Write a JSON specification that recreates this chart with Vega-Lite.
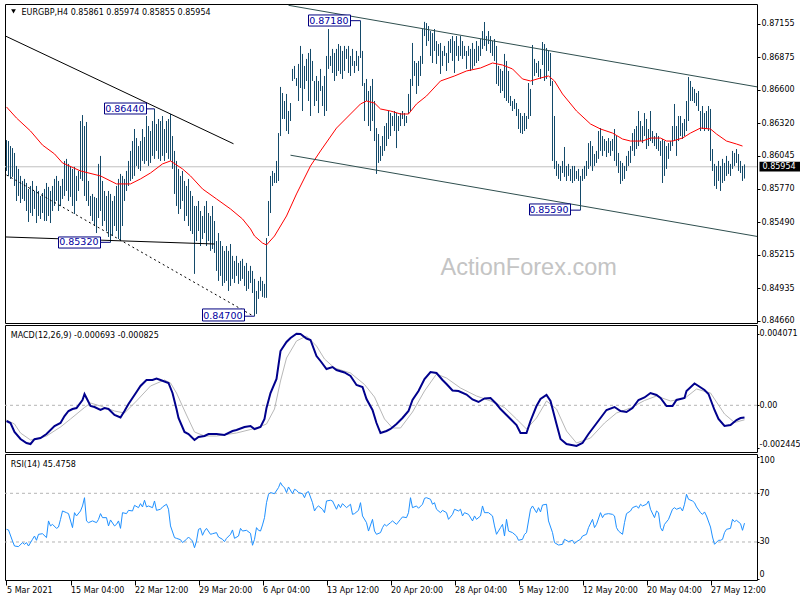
{
"$schema": "https://vega.github.io/schema/vega-lite/v6.json",
"padding": {"left": 2, "top": 3, "right": 0, "bottom": 0},
"background": "white",
"spacing": 2,
"bounds": "flush",
"config": {
  "view": {"stroke": "black", "strokeWidth": 1},
  "axis": {"labelFont": "DejaVu Sans", "labelFontSize": 8, "labelColor": "black", "tickColor": "black", "domain": false, "grid": false, "title": null, "tickSize": 3, "labelPadding": 1, "labelOverlap": false, "labelBound": false}
},
"datasets": {
"bars": [
{"i":0,"h":0.86178,"l":0.85919},{"i":1,"h":0.86170,"l":0.85877},{"i":2,"h":0.86128,"l":0.85852},{"i":3,"h":0.86111,"l":0.85869},{"i":4,"h":0.86070,"l":0.85793},
{"i":5,"h":0.85961,"l":0.85667},{"i":6,"h":0.85936,"l":0.85709},{"i":7,"h":0.85877,"l":0.85650},{"i":8,"h":0.85835,"l":0.85684},{"i":9,"h":0.85852,"l":0.85667},
{"i":10,"h":0.85818,"l":0.85583},{"i":11,"h":0.85768,"l":0.85491},{"i":12,"h":0.85793,"l":0.85566},{"i":13,"h":0.85835,"l":0.85541},{"i":14,"h":0.85751,"l":0.85600},
{"i":15,"h":0.85793,"l":0.85482},{"i":16,"h":0.85751,"l":0.85541},{"i":17,"h":0.85709,"l":0.85516},{"i":18,"h":0.85734,"l":0.85566},{"i":19,"h":0.85768,"l":0.85499},
{"i":20,"h":0.85818,"l":0.85499},{"i":21,"h":0.85785,"l":0.85541},{"i":22,"h":0.85751,"l":0.85482},{"i":23,"h":0.85793,"l":0.85583},{"i":24,"h":0.85852,"l":0.85625},
{"i":25,"h":0.85877,"l":0.85667},{"i":26,"h":0.85835,"l":0.85583},{"i":27,"h":0.85793,"l":0.85625},{"i":28,"h":0.85852,"l":0.85684},{"i":29,"h":0.86003,"l":0.85709},
{"i":30,"h":0.86020,"l":0.85751},{"i":31,"h":0.85978,"l":0.85667},{"i":32,"h":0.85961,"l":0.85701},{"i":33,"h":0.85936,"l":0.85625},{"i":34,"h":0.85953,"l":0.85558},
{"i":35,"h":0.85877,"l":0.85667},{"i":36,"h":0.85919,"l":0.85751},{"i":37,"h":0.86338,"l":0.85852},{"i":38,"h":0.86388,"l":0.85835},{"i":39,"h":0.86296,"l":0.85709},
{"i":40,"h":0.86330,"l":0.85667},{"i":41,"h":0.85835,"l":0.85625},{"i":42,"h":0.85709,"l":0.85541},{"i":43,"h":0.85726,"l":0.85499},{"i":44,"h":0.85701,"l":0.85457},
{"i":45,"h":0.85692,"l":0.85398},{"i":46,"h":0.85978,"l":0.85524},{"i":47,"h":0.86045,"l":0.85583},{"i":48,"h":0.85835,"l":0.85457},{"i":49,"h":0.85751,"l":0.85499},
{"i":50,"h":0.85709,"l":0.85415},{"i":51,"h":0.85751,"l":0.85365},{"i":52,"h":0.85726,"l":0.85320},{"i":53,"h":0.85667,"l":0.85373},{"i":54,"h":0.85709,"l":0.85457},
{"i":55,"h":0.85793,"l":0.85415},{"i":56,"h":0.85852,"l":0.85348},{"i":57,"h":0.85894,"l":0.85331},{"i":58,"h":0.85877,"l":0.85457},{"i":59,"h":0.85852,"l":0.85667},
{"i":60,"h":0.85919,"l":0.85751},{"i":61,"h":0.86003,"l":0.85793},{"i":62,"h":0.86087,"l":0.85835},{"i":63,"h":0.86170,"l":0.85852},{"i":64,"h":0.86271,"l":0.85877},
{"i":65,"h":0.86195,"l":0.85961},{"i":66,"h":0.86128,"l":0.85936},{"i":67,"h":0.86170,"l":0.85919},{"i":68,"h":0.86271,"l":0.86003},{"i":69,"h":0.86204,"l":0.85978},
{"i":70,"h":0.86380,"l":0.86003},{"i":71,"h":0.86296,"l":0.85961},{"i":72,"h":0.86254,"l":0.85986},{"i":73,"h":0.86338,"l":0.86045},{"i":74,"h":0.86440,"l":0.86020},
{"i":75,"h":0.86313,"l":0.86087},{"i":76,"h":0.86355,"l":0.86020},{"i":77,"h":0.86338,"l":0.86003},{"i":78,"h":0.86380,"l":0.86045},{"i":79,"h":0.86271,"l":0.86003},
{"i":80,"h":0.86338,"l":0.86070},{"i":81,"h":0.86355,"l":0.86020},{"i":82,"h":0.86397,"l":0.86003},{"i":83,"h":0.86212,"l":0.85936},{"i":84,"h":0.86087,"l":0.85726},
{"i":85,"h":0.86003,"l":0.85625},{"i":86,"h":0.85936,"l":0.85558},{"i":87,"h":0.85877,"l":0.85600},{"i":88,"h":0.85919,"l":0.85667},{"i":89,"h":0.85835,"l":0.85499},
{"i":90,"h":0.85793,"l":0.85541},{"i":91,"h":0.85852,"l":0.85457},{"i":92,"h":0.85751,"l":0.85415},{"i":93,"h":0.85709,"l":0.85390},{"i":94,"h":0.85625,"l":0.85055},
{"i":95,"h":0.85625,"l":0.85331},{"i":96,"h":0.85667,"l":0.85415},{"i":97,"h":0.85583,"l":0.85289},{"i":98,"h":0.85541,"l":0.85348},{"i":99,"h":0.85625,"l":0.85398},
{"i":100,"h":0.85667,"l":0.85289},{"i":101,"h":0.85566,"l":0.85331},{"i":102,"h":0.85541,"l":0.85248},{"i":103,"h":0.85625,"l":0.85264},{"i":104,"h":0.85499,"l":0.85231},
{"i":105,"h":0.85331,"l":0.85080},{"i":106,"h":0.85398,"l":0.84996},{"i":107,"h":0.85331,"l":0.85038},{"i":108,"h":0.85289,"l":0.84954},{"i":109,"h":0.85248,"l":0.84979},
{"i":110,"h":0.85289,"l":0.84996},{"i":111,"h":0.85248,"l":0.84912},{"i":112,"h":0.85306,"l":0.84954},{"i":113,"h":0.85206,"l":0.85013},{"i":114,"h":0.85164,"l":0.84979},
{"i":115,"h":0.85206,"l":0.85038},{"i":116,"h":0.85147,"l":0.84971},{"i":117,"h":0.85164,"l":0.84996},{"i":118,"h":0.85181,"l":0.85013},{"i":119,"h":0.85122,"l":0.84954},
{"i":120,"h":0.85147,"l":0.84912},{"i":121,"h":0.85080,"l":0.84929},{"i":122,"h":0.85122,"l":0.84979},{"i":123,"h":0.85080,"l":0.84895},{"i":124,"h":0.85013,"l":0.84700},
{"i":125,"h":0.84912,"l":0.84719},{"i":126,"h":0.84996,"l":0.84845},{"i":127,"h":0.85030,"l":0.84912},{"i":128,"h":0.84996,"l":0.84862},{"i":129,"h":0.84971,"l":0.84854},
{"i":130,"h":0.85356,"l":0.84854},{"i":131,"h":0.85667,"l":0.85373},{"i":132,"h":0.85877,"l":0.85566},{"i":133,"h":0.85919,"l":0.85793},{"i":134,"h":0.85902,"l":0.85818},
{"i":135,"h":0.86003,"l":0.85818},{"i":136,"h":0.86237,"l":0.85835},{"i":137,"h":0.86624,"l":0.86212},{"i":138,"h":0.86573,"l":0.86355},{"i":139,"h":0.86506,"l":0.86355},
{"i":140,"h":0.86565,"l":0.86254},{"i":141,"h":0.86422,"l":0.86229},{"i":142,"h":0.86489,"l":0.86338},{"i":143,"h":0.86775,"l":0.86674},{"i":144,"h":0.86800,"l":0.86691},
{"i":145,"h":0.86699,"l":0.86632},{"i":146,"h":0.86817,"l":0.86506},{"i":147,"h":0.86968,"l":0.86615},{"i":148,"h":0.86901,"l":0.86422},{"i":149,"h":0.86800,"l":0.86607},
{"i":150,"h":0.86859,"l":0.86674},{"i":151,"h":0.86909,"l":0.86506},{"i":152,"h":0.86943,"l":0.86380},{"i":153,"h":0.86842,"l":0.86674},{"i":154,"h":0.86674,"l":0.86464},
{"i":155,"h":0.86716,"l":0.86506},{"i":156,"h":0.86674,"l":0.86405},{"i":157,"h":0.86775,"l":0.86590},{"i":158,"h":0.86632,"l":0.86464},{"i":159,"h":0.86716,"l":0.86380},
{"i":160,"h":0.86884,"l":0.86422},{"i":161,"h":0.87110,"l":0.86775},{"i":162,"h":0.86884,"l":0.86800},{"i":163,"h":0.86943,"l":0.86741},{"i":164,"h":0.86909,"l":0.86674},
{"i":165,"h":0.86943,"l":0.86716},{"i":166,"h":0.86984,"l":0.86758},{"i":167,"h":0.86968,"l":0.86733},{"i":168,"h":0.86926,"l":0.86691},{"i":169,"h":0.86968,"l":0.86758},
{"i":170,"h":0.86943,"l":0.86859},{"i":171,"h":0.86968,"l":0.86741},{"i":172,"h":0.86884,"l":0.86716},{"i":173,"h":0.86943,"l":0.86800},{"i":174,"h":0.86842,"l":0.86741},
{"i":175,"h":0.86926,"l":0.86800},{"i":176,"h":0.86884,"l":0.86758},{"i":177,"h":0.87180,"l":0.86867},{"i":178,"h":0.86926,"l":0.86632},{"i":179,"h":0.86657,"l":0.86338},
{"i":180,"h":0.86691,"l":0.86506},{"i":181,"h":0.86590,"l":0.86296},{"i":182,"h":0.86632,"l":0.86254},{"i":183,"h":0.86691,"l":0.86338},{"i":184,"h":0.86506,"l":0.86170},
{"i":185,"h":0.86279,"l":0.85894},{"i":186,"h":0.86229,"l":0.85986},{"i":187,"h":0.86128,"l":0.86003},{"i":188,"h":0.86212,"l":0.86045},{"i":189,"h":0.86296,"l":0.86087},
{"i":190,"h":0.86321,"l":0.86128},{"i":191,"h":0.86422,"l":0.86187},{"i":192,"h":0.86405,"l":0.86212},{"i":193,"h":0.86380,"l":0.86296},{"i":194,"h":0.86422,"l":0.86254},
{"i":195,"h":0.86405,"l":0.86111},{"i":196,"h":0.86380,"l":0.86254},{"i":197,"h":0.86405,"l":0.86296},{"i":198,"h":0.86422,"l":0.86355},{"i":199,"h":0.86405,"l":0.86296},
{"i":200,"h":0.86380,"l":0.86321},{"i":201,"h":0.86565,"l":0.86397},{"i":202,"h":0.86691,"l":0.86422},{"i":203,"h":0.86993,"l":0.86632},{"i":204,"h":0.86842,"l":0.86716},
{"i":205,"h":0.86825,"l":0.86565},{"i":206,"h":0.86842,"l":0.86632},{"i":207,"h":0.86884,"l":0.86716},{"i":208,"h":0.87110,"l":0.86817},{"i":209,"h":0.87170,"l":0.87051},
{"i":210,"h":0.87160,"l":0.86968},{"i":211,"h":0.87135,"l":0.87009},{"i":212,"h":0.87093,"l":0.86884},{"i":213,"h":0.87076,"l":0.86825},{"i":214,"h":0.87110,"l":0.86926},
{"i":215,"h":0.87009,"l":0.86817},{"i":216,"h":0.86984,"l":0.86884},{"i":217,"h":0.86993,"l":0.86733},{"i":218,"h":0.86926,"l":0.86800},{"i":219,"h":0.86968,"l":0.86884},
{"i":220,"h":0.86909,"l":0.86758},{"i":221,"h":0.87009,"l":0.86825},{"i":222,"h":0.87026,"l":0.86909},{"i":223,"h":0.87051,"l":0.86842},{"i":224,"h":0.87009,"l":0.86741},
{"i":225,"h":0.87051,"l":0.86884},{"i":226,"h":0.86968,"l":0.86842},{"i":227,"h":0.87051,"l":0.86884},{"i":228,"h":0.87009,"l":0.86859},{"i":229,"h":0.86968,"l":0.86884},
{"i":230,"h":0.86926,"l":0.86775},{"i":231,"h":0.86968,"l":0.86884},{"i":232,"h":0.86943,"l":0.86758},{"i":233,"h":0.86993,"l":0.86775},{"i":234,"h":0.86943,"l":0.86800},
{"i":235,"h":0.87009,"l":0.86825},{"i":236,"h":0.86968,"l":0.86842},{"i":237,"h":0.87026,"l":0.86884},{"i":238,"h":0.87093,"l":0.86943},{"i":239,"h":0.87169,"l":0.86968},
{"i":240,"h":0.87051,"l":0.86926},{"i":241,"h":0.87093,"l":0.86984},{"i":242,"h":0.87051,"l":0.86909},{"i":243,"h":0.87009,"l":0.86884},{"i":244,"h":0.87026,"l":0.86842},
{"i":245,"h":0.86968,"l":0.86649},{"i":246,"h":0.86800,"l":0.86632},{"i":247,"h":0.86775,"l":0.86573},{"i":248,"h":0.86758,"l":0.86590},{"i":249,"h":0.86901,"l":0.86531},
{"i":250,"h":0.86842,"l":0.86506},{"i":251,"h":0.86758,"l":0.86489},{"i":252,"h":0.86548,"l":0.86464},{"i":253,"h":0.86506,"l":0.86422},{"i":254,"h":0.86523,"l":0.86439},
{"i":255,"h":0.86489,"l":0.86380},{"i":256,"h":0.86439,"l":0.86271},{"i":257,"h":0.86405,"l":0.86237},{"i":258,"h":0.86380,"l":0.86229},{"i":259,"h":0.86405,"l":0.86254},
{"i":260,"h":0.86380,"l":0.86271},{"i":261,"h":0.86657,"l":0.86355},{"i":262,"h":0.86607,"l":0.86380},{"i":263,"h":0.86976,"l":0.86640},{"i":264,"h":0.86859,"l":0.86716},
{"i":265,"h":0.86825,"l":0.86741},{"i":266,"h":0.86842,"l":0.86707},{"i":267,"h":0.86775,"l":0.86691},{"i":268,"h":0.87001,"l":0.86808},{"i":269,"h":0.86984,"l":0.86674},
{"i":270,"h":0.86951,"l":0.86691},{"i":271,"h":0.86926,"l":0.86758},{"i":272,"h":0.86909,"l":0.86632},{"i":273,"h":0.86674,"l":0.86003},{"i":274,"h":0.86380,"l":0.85936},
{"i":275,"h":0.86003,"l":0.85877},{"i":276,"h":0.85978,"l":0.85852},{"i":277,"h":0.85961,"l":0.85835},{"i":278,"h":0.86003,"l":0.85902},{"i":279,"h":0.86120,"l":0.85869},
{"i":280,"h":0.85961,"l":0.85835},{"i":281,"h":0.85978,"l":0.85877},{"i":282,"h":0.85936,"l":0.85835},{"i":283,"h":0.85961,"l":0.85818},{"i":284,"h":0.85961,"l":0.85835},
{"i":285,"h":0.85919,"l":0.85852},{"i":286,"h":0.85936,"l":0.85835},{"i":287,"h":0.85877,"l":0.85590},{"i":288,"h":0.85936,"l":0.85835},{"i":289,"h":0.85961,"l":0.85852},
{"i":290,"h":0.86003,"l":0.85877},{"i":291,"h":0.86153,"l":0.85936},{"i":292,"h":0.86170,"l":0.85961},{"i":293,"h":0.86128,"l":0.85919},{"i":294,"h":0.86061,"l":0.85961},
{"i":295,"h":0.86087,"l":0.85986},{"i":296,"h":0.86254,"l":0.86020},{"i":297,"h":0.86279,"l":0.86087},{"i":298,"h":0.86212,"l":0.86045},{"i":299,"h":0.86187,"l":0.86087},
{"i":300,"h":0.86170,"l":0.86036},{"i":301,"h":0.86195,"l":0.86070},{"i":302,"h":0.86170,"l":0.86045},{"i":303,"h":0.86187,"l":0.86087},{"i":304,"h":0.86271,"l":0.86003},
{"i":305,"h":0.86212,"l":0.85961},{"i":306,"h":0.86070,"l":0.85902},{"i":307,"h":0.86003,"l":0.85810},{"i":308,"h":0.85986,"l":0.85835},{"i":309,"h":0.85961,"l":0.85852},
{"i":310,"h":0.86045,"l":0.85919},{"i":311,"h":0.86087,"l":0.85961},{"i":312,"h":0.86128,"l":0.85986},{"i":313,"h":0.86237,"l":0.86087},{"i":314,"h":0.86271,"l":0.86045},
{"i":315,"h":0.86296,"l":0.86103},{"i":316,"h":0.86422,"l":0.86128},{"i":317,"h":0.86338,"l":0.86170},{"i":318,"h":0.86296,"l":0.86153},{"i":319,"h":0.86405,"l":0.86212},
{"i":320,"h":0.86355,"l":0.86103},{"i":321,"h":0.86271,"l":0.86128},{"i":322,"h":0.86422,"l":0.86170},{"i":323,"h":0.86254,"l":0.86153},{"i":324,"h":0.86212,"l":0.86128},
{"i":325,"h":0.86237,"l":0.86103},{"i":326,"h":0.86212,"l":0.86087},{"i":327,"h":0.86170,"l":0.86045},{"i":328,"h":0.86187,"l":0.85818},{"i":329,"h":0.86170,"l":0.85877},
{"i":330,"h":0.86128,"l":0.85936},{"i":331,"h":0.86153,"l":0.86020},{"i":332,"h":0.86170,"l":0.86087},{"i":333,"h":0.86296,"l":0.86128},{"i":334,"h":0.86481,"l":0.86170},
{"i":335,"h":0.86296,"l":0.86045},{"i":336,"h":0.86380,"l":0.86170},{"i":337,"h":0.86380,"l":0.86212},{"i":338,"h":0.86321,"l":0.86187},{"i":339,"h":0.86355,"l":0.86212},
{"i":340,"h":0.86506,"l":0.86254},{"i":341,"h":0.86707,"l":0.86338},{"i":342,"h":0.86674,"l":0.86506},{"i":343,"h":0.86624,"l":0.86506},{"i":344,"h":0.86607,"l":0.86489},
{"i":345,"h":0.86573,"l":0.86464},{"i":346,"h":0.86590,"l":0.86422},{"i":347,"h":0.86422,"l":0.86254},{"i":348,"h":0.86464,"l":0.86271},{"i":349,"h":0.86405,"l":0.86254},
{"i":350,"h":0.86422,"l":0.86271},{"i":351,"h":0.86464,"l":0.86254},{"i":352,"h":0.86439,"l":0.86003},{"i":353,"h":0.86103,"l":0.85919},{"i":354,"h":0.85978,"l":0.85793},
{"i":355,"h":0.85961,"l":0.85768},{"i":356,"h":0.86003,"l":0.85835},{"i":357,"h":0.85961,"l":0.85751},{"i":358,"h":0.86020,"l":0.85818},{"i":359,"h":0.85986,"l":0.85835},
{"i":360,"h":0.86045,"l":0.85877},{"i":361,"h":0.86003,"l":0.85894},{"i":362,"h":0.85978,"l":0.85877},{"i":363,"h":0.86087,"l":0.85936},{"i":364,"h":0.86070,"l":0.85961},
{"i":365,"h":0.86103,"l":0.85986},{"i":366,"h":0.86061,"l":0.85919},{"i":367,"h":0.86003,"l":0.85902},{"i":368,"h":0.85961,"l":0.85835},{"i":369,"h":0.85974,"l":0.85855}
],
"ma": [
{"i":0,"v":0.86456},{"i":5,"v":0.86363},{"i":12,"v":0.86254},{"i":18,"v":0.86136},{"i":24,"v":0.86062},{"i":28,"v":0.85986},{"i":37,"v":0.85919},{"i":47,"v":0.85877},{"i":55,"v":0.85810},{"i":62,"v":0.85810},{"i":67,"v":0.85852},{"i":72,"v":0.85902},{"i":78,"v":0.85978},{"i":82,"v":0.86003},{"i":88,"v":0.85936},{"i":92,"v":0.85877},{"i":98,"v":0.85768},{"i":105,"v":0.85684},{"i":112,"v":0.85600},{"i":118,"v":0.85516},{"i":122,"v":0.85432},{"i":124,"v":0.85373},{"i":128,"v":0.85314},{"i":130,"v":0.85298},{"i":134,"v":0.85373},{"i":140,"v":0.85541},{"i":145,"v":0.85726},{"i":152,"v":0.85961},{"i":157,"v":0.86087},{"i":165,"v":0.86279},{"i":172,"v":0.86397},{"i":177,"v":0.86481},{"i":180,"v":0.86506},{"i":184,"v":0.86489},{"i":187,"v":0.86439},{"i":192,"v":0.86422},{"i":197,"v":0.86397},{"i":201,"v":0.86397},{"i":205,"v":0.86481},{"i":210,"v":0.86548},{"i":217,"v":0.86674},{"i":224,"v":0.86716},{"i":230,"v":0.86758},{"i":237,"v":0.86783},{"i":243,"v":0.86825},{"i":248,"v":0.86808},{"i":253,"v":0.86775},{"i":258,"v":0.86691},{"i":262,"v":0.86674},{"i":267,"v":0.86699},{"i":271,"v":0.86716},{"i":274,"v":0.86674},{"i":278,"v":0.86565},{"i":285,"v":0.86422},{"i":292,"v":0.86313},{"i":297,"v":0.86271},{"i":303,"v":0.86237},{"i":308,"v":0.86187},{"i":312,"v":0.86170},{"i":318,"v":0.86170},{"i":322,"v":0.86195},{"i":327,"v":0.86195},{"i":330,"v":0.86170},{"i":333,"v":0.86170},{"i":338,"v":0.86195},{"i":342,"v":0.86237},{"i":347,"v":0.86279},{"i":352,"v":0.86271},{"i":355,"v":0.86229},{"i":360,"v":0.86170},{"i":365,"v":0.86145},{"i":368,"v":0.86128}
],
"macd": [
{"i":0,"m":-0.000893},{"i":2,"m":-0.001007},{"i":4,"m":-0.001519},{"i":7,"m":-0.001918},{"i":10,"m":-0.002145},{"i":12,"m":-0.002202},{"i":14,"m":-0.00193},{"i":17,"m":-0.001861},{"i":20,"m":-0.001633},{"i":24,"m":-0.001178},{"i":27,"m":-0.001007},{"i":29,"m":-0.00061},{"i":31,"m":-0.000324},{"i":33,"m":-0.000211},{"i":35,"m":-0.000154},{"i":38,"m":0.000302},{"i":39,"m":0.000643},{"i":40,"m":0.000415},{"i":42,"m":-0.00004},{"i":44,"m":-0.0001},{"i":47,"m":-0.000267},{"i":49,"m":-0.000154},{"i":51,"m":-0.000211},{"i":54,"m":-0.000552},{"i":57,"m":-0.000694},{"i":59,"m":-0.000324},{"i":61,"m":0.000074},{"i":65,"m":0.000757},{"i":67,"m":0.001098},{"i":70,"m":0.00144},{"i":73,"m":0.00144},{"i":75,"m":0.001525},{"i":77,"m":0.00144},{"i":81,"m":0.001269},{"i":83,"m":0.0007},{"i":85,"m":-0.000211},{"i":86,"m":-0.000723},{"i":89,"m":-0.001519},{"i":91,"m":-0.001633},{"i":94,"m":-0.001974},{"i":96,"m":-0.001804},{"i":99,"m":-0.001747},{"i":101,"m":-0.001633},{"i":105,"m":-0.001633},{"i":109,"m":-0.00169},{"i":113,"m":-0.001462},{"i":115,"m":-0.001405},{"i":119,"m":-0.001235},{"i":122,"m":-0.001178},{"i":124,"m":-0.001349},{"i":127,"m":-0.001235},{"i":129,"m":-0.00078},{"i":130,"m":-0.000154},{"i":132,"m":0.0007},{"i":135,"m":0.001496},{"i":137,"m":0.00309},{"i":140,"m":0.003602},{"i":142,"m":0.003829},{"i":145,"m":0.004071},{"i":147,"m":0.004057},{"i":150,"m":0.003801},{"i":152,"m":0.003716},{"i":155,"m":0.002805},{"i":157,"m":0.002521},{"i":160,"m":0.002065},{"i":163,"m":0.002179},{"i":165,"m":0.002009},{"i":169,"m":0.001866},{"i":172,"m":0.001667},{"i":175,"m":0.001155},{"i":178,"m":0.001041},{"i":180,"m":0.000358},{"i":183,"m":-0.000267},{"i":185,"m":-0.001007},{"i":187,"m":-0.001576},{"i":190,"m":-0.001462},{"i":192,"m":-0.001349},{"i":195,"m":-0.001064},{"i":198,"m":-0.000723},{"i":201,"m":-0.000324},{"i":203,"m":0.000302},{"i":206,"m":0.000814},{"i":209,"m":0.001496},{"i":212,"m":0.001895},{"i":215,"m":0.001838},{"i":218,"m":0.00144},{"i":220,"m":0.001212},{"i":223,"m":0.000842},{"i":226,"m":0.000814},{"i":230,"m":0.000615},{"i":233,"m":0.00033},{"i":236,"m":0.000188},{"i":239,"m":0.000387},{"i":242,"m":0.000415},{"i":245,"m":0.000074},{"i":247,"m":-0.000211},{"i":250,"m":-0.000552},{"i":252,"m":-0.00078},{"i":255,"m":-0.001121},{"i":257,"m":-0.001576},{"i":260,"m":-0.001576},{"i":262,"m":-0.000893},{"i":265,"m":-0.00004},{"i":267,"m":0.000358},{"i":270,"m":0.000586},{"i":272,"m":0.000245},{"i":275,"m":-0.001064},{"i":277,"m":-0.001918},{"i":280,"m":-0.002202},{"i":285,"m":-0.00231},{"i":288,"m":-0.002145},{"i":291,"m":-0.001633},{"i":294,"m":-0.001178},{"i":297,"m":-0.000723},{"i":300,"m":-0.000267},{"i":304,"m":-0.000097},{"i":307,"m":-0.000324},{"i":310,"m":-0.000381},{"i":313,"m":-0.000154},{"i":316,"m":0.000302},{"i":319,"m":0.000444},{"i":322,"m":0.0007},{"i":325,"m":0.000586},{"i":327,"m":0.000415},{"i":330,"m":-0.00004},{"i":333,"m":-0.00004},{"i":335,"m":0.000302},{"i":339,"m":0.000415},{"i":340,"m":0.000814},{"i":344,"m":0.00124},{"i":346,"m":0.001098},{"i":349,"m":0.000871},{"i":351,"m":0.000643},{"i":354,"m":-0.000267},{"i":356,"m":-0.00078},{"i":359,"m":-0.001178},{"i":362,"m":-0.001121},{"i":365,"m":-0.000836},{"i":367,"m":-0.000723},{"i":369,"m":-0.000693}
],
"sig": [
{"i":0,"s":-0.000836},{"i":4,"s":-0.001064},{"i":7,"s":-0.001576},{"i":12,"s":-0.001974},{"i":15,"s":-0.001918},{"i":20,"s":-0.001747},{"i":27,"s":-0.001235},{"i":32,"s":-0.00078},{"i":39,"s":-0.000125},{"i":42,"s":0.000131},{"i":47,"s":-0.00004},{"i":54,"s":-0.000324},{"i":59,"s":-0.000438},{"i":65,"s":0.000245},{"i":72,"s":0.001098},{"i":79,"s":0.00144},{"i":82,"s":0.001269},{"i":85,"s":0.0007},{"i":90,"s":-0.000552},{"i":94,"s":-0.001519},{"i":99,"s":-0.001747},{"i":105,"s":-0.001747},{"i":115,"s":-0.001576},{"i":125,"s":-0.001292},{"i":130,"s":-0.001064},{"i":134,"s":-0.000211},{"i":137,"s":0.001383},{"i":140,"s":0.002691},{"i":145,"s":0.003659},{"i":150,"s":0.003943},{"i":155,"s":0.003374},{"i":159,"s":0.002634},{"i":164,"s":0.002122},{"i":172,"s":0.001838},{"i":179,"s":0.001184},{"i":184,"s":0.000472},{"i":189,"s":-0.00078},{"i":193,"s":-0.001292},{"i":197,"s":-0.001292},{"i":203,"s":-0.000381},{"i":209,"s":0.000814},{"i":215,"s":0.001781},{"i":220,"s":0.001553},{"i":227,"s":0.000984},{"i":235,"s":0.000529},{"i":242,"s":0.000245},{"i":249,"s":-0.000125},{"i":255,"s":-0.00078},{"i":260,"s":-0.001349},{"i":265,"s":-0.000723},{"i":270,"s":0.000245},{"i":275,"s":-0.000211},{"i":280,"s":-0.001462},{"i":285,"s":-0.002145},{"i":292,"s":-0.001861},{"i":299,"s":-0.001007},{"i":305,"s":-0.000438},{"i":312,"s":-0.000154},{"i":319,"s":0.000273},{"i":325,"s":0.000529},{"i":332,"s":0.000245},{"i":339,"s":0.000387},{"i":345,"s":0.000927},{"i":352,"s":0.0007},{"i":359,"s":-0.000495},{"i":364,"s":-0.000979},{"i":369,"s":-0.000825}
],
"rsi": [
{"i":0,"r":40.4},{"i":1,"r":39.9},{"i":3,"r":30.8},{"i":4,"r":26.7},{"i":6,"r":26.2},{"i":8,"r":29.5},{"i":9,"r":28.1},{"i":10,"r":29.5},{"i":11,"r":26.7},{"i":13,"r":32.2},{"i":14,"r":34.9},{"i":15,"r":31.4},{"i":16,"r":36.3},{"i":18,"r":36.8},{"i":20,"r":33.6},{"i":21,"r":47.3},{"i":22,"r":43.2},{"i":23,"r":44.5},{"i":25,"r":41.2},{"i":26,"r":42.3},{"i":27,"r":48.6},{"i":28,"r":55.5},{"i":30,"r":54.1},{"i":31,"r":53.3},{"i":33,"r":41.8},{"i":34,"r":54.1},{"i":35,"r":51.4},{"i":37,"r":55.5},{"i":38,"r":59.6},{"i":39,"r":66.4},{"i":40,"r":47.3},{"i":41,"r":45.9},{"i":43,"r":47.3},{"i":45,"r":45.9},{"i":46,"r":48.6},{"i":47,"r":53.3},{"i":48,"r":50.0},{"i":50,"r":50.0},{"i":51,"r":43.2},{"i":52,"r":48.1},{"i":54,"r":43.2},{"i":55,"r":44.5},{"i":56,"r":47.3},{"i":57,"r":41.2},{"i":58,"r":54.1},{"i":60,"r":53.3},{"i":61,"r":56.0},{"i":63,"r":55.5},{"i":64,"r":60.1},{"i":66,"r":58.2},{"i":67,"r":61.5},{"i":68,"r":58.8},{"i":69,"r":64.3},{"i":70,"r":58.8},{"i":71,"r":59.6},{"i":73,"r":58.2},{"i":74,"r":63.7},{"i":75,"r":56.0},{"i":77,"r":56.9},{"i":78,"r":58.8},{"i":80,"r":61.0},{"i":81,"r":56.9},{"i":82,"r":43.2},{"i":84,"r":33.6},{"i":85,"r":33.0},{"i":87,"r":31.9},{"i":88,"r":29.5},{"i":90,"r":32.2},{"i":91,"r":34.1},{"i":93,"r":30.8},{"i":94,"r":25.3},{"i":95,"r":30.8},{"i":96,"r":40.4},{"i":97,"r":41.2},{"i":98,"r":35.5},{"i":99,"r":39.0},{"i":100,"r":41.2},{"i":102,"r":36.3},{"i":103,"r":36.8},{"i":105,"r":37.7},{"i":106,"r":34.1},{"i":108,"r":32.2},{"i":109,"r":30.3},{"i":110,"r":33.0},{"i":112,"r":36.3},{"i":113,"r":39.9},{"i":114,"r":33.0},{"i":116,"r":34.9},{"i":117,"r":41.2},{"i":118,"r":39.0},{"i":120,"r":39.6},{"i":122,"r":37.1},{"i":123,"r":27.3},{"i":124,"r":32.2},{"i":125,"r":41.8},{"i":126,"r":39.6},{"i":127,"r":39.0},{"i":128,"r":44.0},{"i":129,"r":50.0},{"i":130,"r":62.3},{"i":131,"r":69.2},{"i":132,"r":70.6},{"i":134,"r":69.7},{"i":136,"r":74.7},{"i":137,"r":78.8},{"i":138,"r":76.0},{"i":139,"r":74.7},{"i":140,"r":70.6},{"i":141,"r":75.2},{"i":143,"r":69.7},{"i":144,"r":73.3},{"i":145,"r":72.5},{"i":146,"r":70.6},{"i":148,"r":69.7},{"i":149,"r":66.4},{"i":150,"r":70.6},{"i":151,"r":71.4},{"i":153,"r":62.3},{"i":154,"r":55.5},{"i":155,"r":58.2},{"i":156,"r":59.6},{"i":158,"r":56.9},{"i":159,"r":54.1},{"i":160,"r":63.7},{"i":162,"r":64.3},{"i":163,"r":63.7},{"i":165,"r":56.9},{"i":166,"r":61.0},{"i":167,"r":58.2},{"i":168,"r":61.5},{"i":170,"r":58.2},{"i":172,"r":61.0},{"i":173,"r":52.7},{"i":174,"r":53.3},{"i":176,"r":56.0},{"i":177,"r":62.3},{"i":178,"r":51.4},{"i":180,"r":45.9},{"i":181,"r":39.0},{"i":183,"r":48.6},{"i":184,"r":39.0},{"i":185,"r":36.3},{"i":187,"r":37.7},{"i":188,"r":41.8},{"i":189,"r":44.5},{"i":190,"r":43.2},{"i":192,"r":45.9},{"i":193,"r":47.3},{"i":195,"r":44.5},{"i":197,"r":48.6},{"i":198,"r":50.6},{"i":200,"r":50.0},{"i":201,"r":54.1},{"i":202,"r":66.4},{"i":203,"r":58.2},{"i":205,"r":59.6},{"i":206,"r":57.7},{"i":208,"r":61.0},{"i":209,"r":65.9},{"i":210,"r":66.4},{"i":212,"r":65.1},{"i":213,"r":61.0},{"i":214,"r":62.3},{"i":215,"r":56.9},{"i":217,"r":54.1},{"i":218,"r":56.0},{"i":220,"r":54.1},{"i":221,"r":48.6},{"i":223,"r":52.7},{"i":224,"r":56.9},{"i":226,"r":55.5},{"i":227,"r":56.9},{"i":228,"r":51.4},{"i":229,"r":54.1},{"i":231,"r":52.7},{"i":233,"r":47.3},{"i":234,"r":51.4},{"i":235,"r":48.6},{"i":237,"r":51.4},{"i":238,"r":59.6},{"i":239,"r":54.1},{"i":241,"r":54.1},{"i":243,"r":51.4},{"i":244,"r":43.2},{"i":245,"r":36.3},{"i":247,"r":41.8},{"i":248,"r":44.5},{"i":249,"r":34.9},{"i":250,"r":48.6},{"i":251,"r":39.0},{"i":253,"r":37.7},{"i":255,"r":34.9},{"i":256,"r":31.4},{"i":258,"r":32.2},{"i":259,"r":36.3},{"i":260,"r":37.7},{"i":262,"r":56.9},{"i":263,"r":59.6},{"i":265,"r":54.1},{"i":266,"r":58.2},{"i":267,"r":54.7},{"i":268,"r":60.4},{"i":270,"r":61.0},{"i":271,"r":47.3},{"i":273,"r":37.7},{"i":274,"r":29.5},{"i":276,"r":27.5},{"i":278,"r":28.1},{"i":279,"r":32.2},{"i":281,"r":30.3},{"i":283,"r":31.4},{"i":284,"r":28.6},{"i":285,"r":30.3},{"i":287,"r":32.2},{"i":288,"r":34.9},{"i":290,"r":36.3},{"i":291,"r":41.8},{"i":293,"r":48.6},{"i":294,"r":41.8},{"i":295,"r":44.5},{"i":297,"r":54.1},{"i":298,"r":50.0},{"i":299,"r":52.7},{"i":301,"r":53.3},{"i":303,"r":52.7},{"i":304,"r":51.4},{"i":305,"r":41.8},{"i":306,"r":39.0},{"i":308,"r":36.3},{"i":309,"r":45.9},{"i":310,"r":53.3},{"i":312,"r":55.5},{"i":313,"r":58.2},{"i":315,"r":59.6},{"i":316,"r":57.7},{"i":317,"r":61.0},{"i":318,"r":59.6},{"i":320,"r":61.0},{"i":321,"r":63.7},{"i":322,"r":56.9},{"i":324,"r":50.0},{"i":325,"r":55.5},{"i":326,"r":54.1},{"i":327,"r":41.8},{"i":328,"r":39.0},{"i":329,"r":44.5},{"i":331,"r":48.6},{"i":333,"r":56.9},{"i":334,"r":58.2},{"i":335,"r":56.9},{"i":337,"r":58.2},{"i":338,"r":55.5},{"i":339,"r":61.0},{"i":340,"r":69.2},{"i":341,"r":65.1},{"i":343,"r":63.7},{"i":344,"r":62.3},{"i":345,"r":58.8},{"i":347,"r":54.1},{"i":348,"r":52.7},{"i":349,"r":54.7},{"i":350,"r":51.4},{"i":352,"r":42.3},{"i":353,"r":34.1},{"i":354,"r":28.1},{"i":356,"r":31.4},{"i":357,"r":31.4},{"i":358,"r":32.2},{"i":359,"r":37.7},{"i":360,"r":40.4},{"i":362,"r":41.2},{"i":363,"r":48.6},{"i":364,"r":46.7},{"i":365,"r":47.8},{"i":367,"r":45.1},{"i":368,"r":39.6},{"i":369,"r":45.48}
],
"tl": [
{"k":"a","i":-0.5,"p":0.87051},{"k":"a","i":113.5,"p":0.86147},
{"k":"b","i":-0.5,"p":0.85365},{"k":"b","i":104,"p":0.85306},
{"k":"c","i":0,"p":0.85885},{"k":"c","i":122.5,"p":0.8471},
{"k":"u","i":141,"p":0.87309},{"k":"u","i":375.5,"p":0.86624},
{"k":"d","i":142,"p":0.86051},{"k":"d","i":375.5,"p":0.85369}
],
"notes": [
{"t":"0.87180","a":151,"b":172,"lo":0.87135,"hi":0.87228,"c":177,"p":0.8718},
{"t":"0.86440","a":49,"b":70,"lo":0.86397,"hi":0.86489,"c":74,"p":0.8644},
{"t":"0.85320","a":26,"b":47,"lo":0.85272,"hi":0.85365,"c":52,"p":0.8532},
{"t":"0.84700","a":98,"b":119,"lo":0.8466,"hi":0.84761,"c":124,"p":0.847},
{"t":"0.85590","a":261.5,"b":282,"lo":0.85549,"hi":0.85642,"c":287,"p":0.8559}
],
"levels": [{"v":70},{"v":30}]
},
"vconcat": [
{
"width": 752, "height": 319,
"layer": [
{"data": {"values": [{}]}, "mark": {"type": "text", "text": "ActionForex.com", "font": "Liberation Sans", "fontSize": 23.5, "color": "#C4C4C4", "align": "left", "baseline": "alphabetic"},
 "encoding": {"x": {"datum": 217, "type": "quantitative"}, "y": {"datum": 0.85046, "type": "quantitative"}}},
{"data": {"values": [{}]}, "mark": {"type": "rule", "color": "#C0C0C0", "strokeWidth": 1},
 "encoding": {"y": {"datum": 0.85954, "type": "quantitative"}}},
{"data": {"name": "bars"}, "mark": {"type": "rule", "color": "#144A6A", "strokeWidth": 1},
 "encoding": {
   "x": {"field": "i", "type": "quantitative", "scale": {"domain": [-0.75, 375.25], "nice": false, "zero": false}, "axis": null},
   "y": {"field": "h", "type": "quantitative", "scale": {"domain": [0.84643, 0.8732], "nice": false, "zero": false},
         "axis": {"orient": "right", "values": [0.87155, 0.86875, 0.866, 0.8632, 0.86045, 0.8577, 0.8549, 0.85215, 0.84935, 0.8466], "tickCount": 30, "format": ".5f", "labelFlush": false, "labelOverlap": false, "labelBound": false, "tickSize": 3, "labelPadding": 1}},
   "y2": {"field": "l"}}},
{"data": {"name": "ma"}, "mark": {"type": "line", "color": "#FF0000", "strokeWidth": 1},
 "encoding": {"x": {"field": "i", "type": "quantitative"}, "y": {"field": "v", "type": "quantitative"}}},
{"data": {"name": "tl"}, "transform": [{"filter": {"field": "k", "oneOf": ["a", "b"]}}], "mark": {"type": "line", "color": "black", "strokeWidth": 1, "clip": true},
 "encoding": {"x": {"field": "i", "type": "quantitative"}, "y": {"field": "p", "type": "quantitative"}, "detail": {"field": "k"}}},
{"data": {"name": "tl"}, "transform": [{"filter": {"field": "k", "equal": "c"}}], "mark": {"type": "line", "color": "black", "strokeWidth": 1, "strokeDash": [2, 3], "clip": true},
 "encoding": {"x": {"field": "i", "type": "quantitative"}, "y": {"field": "p", "type": "quantitative"}}},
{"data": {"name": "tl"}, "transform": [{"filter": {"field": "k", "oneOf": ["u", "d"]}}], "mark": {"type": "line", "color": "#2F4F4F", "strokeWidth": 1, "clip": true},
 "encoding": {"x": {"field": "i", "type": "quantitative"}, "y": {"field": "p", "type": "quantitative"}, "detail": {"field": "k"}}},
{"data": {"name": "notes"}, "mark": {"type": "rule", "color": "#000080", "strokeWidth": 1},
 "encoding": {"x": {"field": "b", "type": "quantitative"}, "x2": {"field": "c"}, "y": {"field": "p", "type": "quantitative"}}},
{"data": {"name": "notes"}, "mark": {"type": "rect", "fill": "white", "stroke": "#000080", "strokeWidth": 1},
 "encoding": {"x": {"field": "a", "type": "quantitative"}, "x2": {"field": "b"}, "y": {"field": "lo", "type": "quantitative"}, "y2": {"field": "hi"}}},
{"data": {"name": "notes"}, "mark": {"type": "text", "font": "DejaVu Sans", "fontSize": 9.5, "color": "#0000A0", "align": "right", "baseline": "middle", "dx": -2},
 "encoding": {"x": {"field": "b", "type": "quantitative"}, "y": {"field": "p", "type": "quantitative"}, "text": {"field": "t"}}},
{"data": {"values": [{}]}, "mark": {"type": "point", "shape": "triangle-down", "filled": true, "size": 22, "color": "black", "opacity": 1},
 "encoding": {"x": {"datum": 3.5, "type": "quantitative"}, "y": {"datum": 0.87258, "type": "quantitative"}}},
{"data": {"values": [{}]}, "mark": {"type": "text", "text": "EURGBP,H4  0.85861 0.85974 0.85855 0.85954", "font": "DejaVu Sans", "fontSize": 8, "color": "black", "align": "left", "baseline": "alphabetic"},
 "encoding": {"x": {"datum": 7.5, "type": "quantitative"}, "y": {"datum": 0.87228, "type": "quantitative"}}},
{"data": {"values": [{}]}, "mark": {"type": "rect", "fill": "black"},
 "encoding": {"x": {"datum": 376.5, "type": "quantitative"}, "x2": {"datum": 397.5}, "y": {"datum": 0.85997, "type": "quantitative"}, "y2": {"datum": 0.85914}}},
{"data": {"values": [{}]}, "mark": {"type": "text", "text": "0.85954", "font": "DejaVu Sans", "fontSize": 8, "color": "white", "align": "left", "baseline": "middle"},
 "encoding": {"x": {"datum": 378, "type": "quantitative"}, "y": {"datum": 0.85955, "type": "quantitative"}}}
]
},
{
"width": 752, "height": 127,
"layer": [
{"data": {"values": [{}]}, "mark": {"type": "rule", "color": "#B4B4B4", "strokeWidth": 1, "strokeDash": [3, 3]},
 "encoding": {"y": {"datum": 0, "type": "quantitative"}}},
{"data": {"name": "sig"}, "mark": {"type": "line", "color": "#B8B8B8", "strokeWidth": 1},
 "encoding": {"x": {"field": "i", "type": "quantitative", "scale": {"domain": [-0.75, 375.25], "nice": false, "zero": false}, "axis": null},
   "y": {"field": "s", "type": "quantitative", "scale": {"domain": [-0.002657, 0.004569], "nice": false, "zero": false},
         "axis": {"orient": "right", "values": [0.004071, 0, -0.002445], "tickCount": 10, "labelExpr": "datum.value == 0 ? '0.00' : (datum.value > 0 ? '0.004071' : '-0.002445')", "labelFlush": 4, "tickSize": 2, "labelPadding": 0}}}},
{"data": {"name": "macd"}, "mark": {"type": "line", "color": "#00008C", "strokeWidth": 2},
 "encoding": {"x": {"field": "i", "type": "quantitative"}, "y": {"field": "m", "type": "quantitative"}}},
{"data": {"values": [{}]}, "mark": {"type": "text", "text": "MACD(12,26,9) -0.000693 -0.000825", "font": "DejaVu Sans", "fontSize": 8, "color": "black", "align": "left", "baseline": "alphabetic"},
 "encoding": {"x": {"datum": 2.15, "type": "quantitative"}, "y": {"datum": 0.003846, "type": "quantitative"}}}
]
},
{
"width": 752, "height": 126,
"layer": [
{"data": {"name": "levels"}, "mark": {"type": "rule", "color": "#B4B4B4", "strokeWidth": 1, "strokeDash": [3, 3]},
 "encoding": {"y": {"field": "v", "type": "quantitative"}}},
{"data": {"name": "rsi"}, "mark": {"type": "line", "color": "#1E90FF", "strokeWidth": 1},
 "encoding": {"x": {"field": "i", "type": "quantitative", "scale": {"domain": [-0.75, 375.25], "nice": false, "zero": false},
        "axis": {"orient": "bottom", "values": [0, 32, 64, 96, 128, 160, 192, 224, 256, 288, 320, 352], "tickCount": 30, "labelExpr": "['5 Mar 2021','15 Mar 04:00','22 Mar 12:00','29 Mar 20:00','6 Apr 04:00','13 Apr 12:00','20 Apr 20:00','28 Apr 04:00','5 May 12:00','12 May 20:00','20 May 04:00','27 May 12:00'][round(datum.value/32)]", "labelAlign": "left", "labelFlush": false, "tickSize": 5, "labelPadding": 1}},
   "y": {"field": "r", "type": "quantitative", "scale": {"domain": [-1.23, 102.3], "nice": false, "zero": false},
         "axis": {"orient": "right", "values": [0, 30, 70, 100], "tickCount": 10, "labelFlush": 4, "tickSize": 2, "labelPadding": 0}}}},
{"data": {"values": [{}]}, "mark": {"type": "text", "text": "RSI(14) 45.4758", "font": "DejaVu Sans", "fontSize": 8, "color": "black", "align": "left", "baseline": "alphabetic"},
 "encoding": {"x": {"datum": 2.15, "type": "quantitative"}, "y": {"datum": 91.6, "type": "quantitative"}}}
]
}
]
}
